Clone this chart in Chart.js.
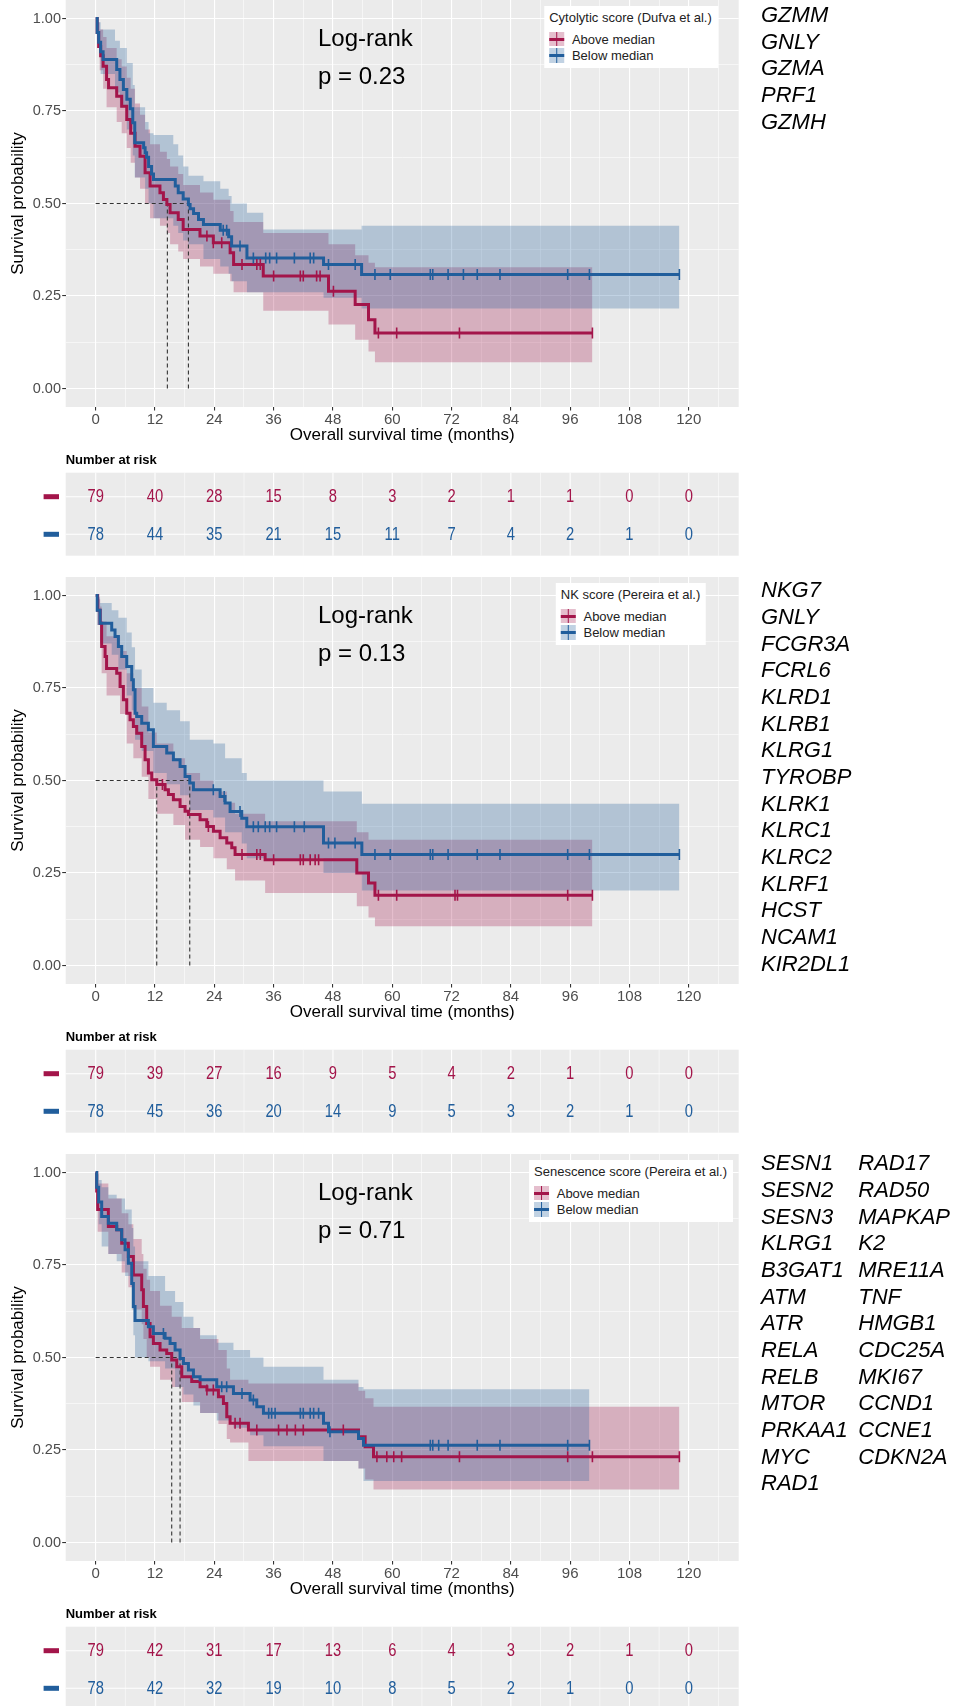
<!DOCTYPE html>
<html><head><meta charset="utf-8">
<script src="https://cdn.jsdelivr.net/npm/chart.js@4.4.1/dist/chart.umd.min.js"></script>
<style>
html,body{margin:0;padding:0;background:#fff}
body{position:relative;width:954px;height:1706px;overflow:hidden;font-family:'Liberation Sans',Arial,sans-serif}
canvas{position:absolute;left:0}
.lr{position:absolute;left:318px;font-size:24px;line-height:38px;color:#000;white-space:pre}
.genes{position:absolute;font-size:22px;font-style:italic;line-height:26.67px;color:#000;white-space:pre}
.legend{position:absolute;left:631px;transform:translateX(-50%);background:#fff;padding:4px 6px 3.7px 5px;color:#222;font-size:13px;white-space:nowrap}
.legend .t{line-height:15px;height:15px}
.legend .row{display:flex;align-items:center;height:16.7px}
.legend .row.first{margin-top:5.7px}
.key{position:relative;width:15px;height:14.7px;margin-right:7.7px}
.key .bg{position:absolute;left:0;top:0;right:0;bottom:0}
.key .h{position:absolute;left:0;right:0;top:5.85px;height:3px}
.key .v{position:absolute;top:0;bottom:0;left:6.75px;width:1.5px}
</style></head>
<body>
<script>
// ---------- axis / labels ----------
const timeBreaks = [0,12,24,36,48,60,72,84,96,108,120];
const timeMinor = [6,18,30,42,54,66,78,90,102,114,126];
const survBreaks = [0,0.25,0.5,0.75,1];
const survLabels = ['0.00','0.25','0.50','0.75','1.00'];
const survMinor = [0.125,0.375,0.625,0.875];
const groupLabels = ['Above median','Below median'];
const scoreTitles = ['Cytolytic score (Dufva et al.)','NK score (Pereira et al.)','Senescence score (Pereira et al.)'];
const logRankP = ['0.23','0.13','0.71'];

// ---------- Panel 1: Cytolytic score ----------
const cytAboveT = [0,0.3,0.6,1.0,1.5,2.2,2.6,4.25,5.26,6.28,7.08,7.96,8.97,9.99,11.0,13.0,13.7,14.4,15.05,16.7,17.7,21.1,23.8,27.2,27.9,33.9,47.1,52.5,55.2,56.5,100.5];
const cytAboveS = [1,0.962,0.924,0.899,0.871,0.835,0.813,0.79,0.763,0.727,0.69,0.655,0.628,0.583,0.547,0.529,0.511,0.497,0.475,0.457,0.43,0.412,0.394,0.367,0.335,0.304,0.263,0.227,0.186,0.15,0.15];
const cytAboveCensT = [22.5,23.8,25.5,29.6,32.6,33.3,36.0,41.4,42.0,44.7,45.4,48.1,57.2,60.9,73.6,100.5];
const cytAboveCensS = [0.412,0.394,0.394,0.335,0.335,0.335,0.304,0.304,0.304,0.304,0.304,0.263,0.15,0.15,0.15,0.15];
const cytAboveBandT = [0,0.3,0.8,1.5,2.2,4.25,5.26,6.28,7.08,7.96,8.97,9.99,11.0,13.0,14.4,15.05,16.7,17.7,21.1,23.8,27.2,27.9,33.9,47.1,52.5,55.2,56.5,100.5];
const cytAboveUpper = [1,0.99,0.97,0.95,0.92,0.89,0.87,0.84,0.81,0.77,0.74,0.70,0.66,0.64,0.62,0.60,0.58,0.55,0.53,0.51,0.48,0.45,0.42,0.39,0.36,0.34,0.328,0.328];
const cytAboveLower = [1,0.93,0.86,0.81,0.76,0.72,0.69,0.65,0.61,0.57,0.54,0.50,0.46,0.44,0.42,0.39,0.37,0.35,0.33,0.31,0.29,0.26,0.21,0.173,0.132,0.10,0.071,0.071];
const cytBelowT = [0,0.3,0.6,1.0,1.5,4.25,4.9,5.6,6.3,7.0,7.5,7.9,9.7,10.0,10.3,10.7,11.3,11.7,16.1,16.7,17.7,18.76,19.1,19.8,20.8,21.8,25.2,26.9,27.5,30.6,46.1,53.8,118.1];
const cytBelowS = [1,0.962,0.936,0.91,0.889,0.862,0.835,0.808,0.782,0.756,0.718,0.664,0.651,0.637,0.625,0.60,0.58,0.565,0.547,0.529,0.512,0.497,0.486,0.473,0.457,0.443,0.428,0.41,0.385,0.353,0.335,0.308,0.308];
const cytBelowCensT = [25.8,26.5,29.2,31.9,34.4,35.2,36.6,40.2,43.4,44.1,47.1,52.5,56.5,59.6,67.7,68.2,71.3,74.4,77.2,81.8,95.5,99.9,118.1];
const cytBelowCensS = [0.428,0.428,0.385,0.353,0.353,0.353,0.353,0.353,0.353,0.353,0.335,0.335,0.308,0.308,0.308,0.308,0.308,0.308,0.308,0.308,0.308,0.308,0.308];
const cytBelowBandT = [0,0.3,1.0,3.9,4.9,6.3,7.5,7.9,10.0,10.7,11.7,15.7,16.7,17.7,18.76,21.8,25.2,26.9,27.5,30.6,33.9,46.1,53.8,118.1];
const cytBelowUpper = [1,0.99,0.97,0.94,0.92,0.88,0.82,0.76,0.72,0.69,0.685,0.66,0.63,0.60,0.575,0.56,0.54,0.52,0.50,0.475,0.43,0.43,0.44,0.44];
const cytBelowLower = [1,0.92,0.85,0.80,0.76,0.70,0.63,0.57,0.54,0.50,0.46,0.44,0.42,0.40,0.39,0.35,0.33,0.31,0.29,0.26,0.26,0.245,0.216,0.216];
const cytMedians = [14.5,18.76];
const cytRiskAbove = [79,40,28,15,8,3,2,1,1,0,0];
const cytRiskBelow = [78,44,35,21,15,11,7,4,2,1,0];
const cytGenes = ['GZMM','GNLY','GZMA','PRF1','GZMH'];

// ---------- Panel 2: NK score ----------
const nkAboveT = [0,0.4,0.9,1.2,1.9,2.2,4.25,4.93,5.6,6.28,6.95,7.62,8.3,9.31,9.99,10.66,11.34,12.35,14.04,14.71,15.72,17.07,18.08,18.76,21.12,22.47,23.82,25.17,26.52,27.53,28.2,34.28,52.83,55.2,56.5,100.5];
const nkAboveS = [1,0.96,0.925,0.862,0.835,0.803,0.79,0.754,0.718,0.682,0.664,0.646,0.628,0.592,0.556,0.52,0.502,0.489,0.475,0.462,0.448,0.43,0.417,0.408,0.394,0.376,0.363,0.345,0.331,0.318,0.30,0.286,0.25,0.223,0.19,0.19];
const nkAboveCensT = [13.5,22.8,29.6,32.6,33.3,36.0,41.4,42.0,43.4,44.4,45.1,57.2,60.9,72.7,73.2,95.5,100.5];
const nkAboveCensS = [0.489,0.376,0.30,0.30,0.30,0.286,0.286,0.286,0.286,0.286,0.286,0.19,0.19,0.19,0.19,0.19,0.19];
const nkAboveBandT = [0,0.4,0.9,1.2,2.2,4.93,6.28,7.62,9.31,10.66,12.35,15.72,18.08,21.12,23.82,26.52,28.2,34.28,52.83,55.2,56.5,100.5];
const nkAboveUpper = [1,0.99,0.97,0.93,0.89,0.85,0.79,0.75,0.70,0.63,0.60,0.56,0.52,0.50,0.47,0.44,0.41,0.39,0.36,0.34,0.34,0.34];
const nkAboveLower = [1,0.92,0.87,0.79,0.73,0.68,0.60,0.56,0.51,0.45,0.41,0.38,0.34,0.32,0.29,0.26,0.23,0.196,0.16,0.13,0.106,0.106];
const nkBelowT = [0,0.3,0.88,3.24,3.91,4.59,5.26,6.28,7.29,7.62,7.96,8.3,9.31,10.66,11.67,14.37,15.72,17.07,18.08,19.03,19.77,25.17,26.18,27.19,29.55,30.57,46.09,53.85,118.1];
const nkBelowS = [1,0.96,0.925,0.907,0.889,0.862,0.835,0.808,0.772,0.745,0.682,0.673,0.655,0.637,0.592,0.574,0.556,0.538,0.511,0.493,0.475,0.457,0.439,0.416,0.398,0.375,0.331,0.30,0.30];
const nkBelowCensT = [23.8,26.0,29.2,31.9,32.9,34.3,35.2,36.6,40.2,42.2,47.1,48.4,52.5,56.5,59.6,67.7,68.2,71.3,77.2,81.8,95.5,99.9,118.1];
const nkBelowCensS = [0.475,0.457,0.416,0.375,0.375,0.375,0.375,0.375,0.375,0.375,0.331,0.331,0.331,0.30,0.30,0.30,0.30,0.30,0.30,0.30,0.30,0.30,0.30];
const nkBelowBandT = [0,0.3,0.88,3.24,4.59,6.28,7.29,7.96,9.31,11.67,14.37,17.07,19.03,23.8,26.18,29.55,30.57,46.09,53.85,118.1];
const nkBelowUpper = [1,0.995,0.98,0.96,0.94,0.90,0.86,0.80,0.75,0.71,0.69,0.66,0.61,0.60,0.56,0.52,0.50,0.47,0.4375,0.4375];
const nkBelowLower = [1,0.92,0.87,0.84,0.80,0.73,0.69,0.61,0.58,0.52,0.49,0.46,0.42,0.40,0.36,0.33,0.29,0.25,0.203,0.203];
const nkMedians = [12.35,19.03];
const nkRiskAbove = [79,39,27,16,9,5,4,2,1,0,0];
const nkRiskBelow = [78,45,36,20,14,9,5,3,2,1,0];
const nkGenes = ['NKG7','GNLY','FCGR3A','FCRL6','KLRD1','KLRB1','KLRG1','TYROBP','KLRK1','KLRC1','KLRC2','KLRF1','HCST','NCAM1','KIR2DL1'];

// ---------- Panel 3: Senescence score ----------
const senAboveT = [0,0.2,0.4,2.56,4.25,5.26,6.61,7.62,9.31,9.65,10.32,11.0,11.67,13.02,14.37,15.38,16.4,17.41,19.43,21.12,22.5,24.83,25.84,26.52,27.19,30.9,53.17,54.52,56.21,118.1];
const senAboveS = [1,0.95,0.90,0.854,0.845,0.809,0.773,0.723,0.683,0.638,0.592,0.556,0.538,0.52,0.511,0.493,0.475,0.448,0.435,0.421,0.412,0.394,0.376,0.34,0.322,0.304,0.286,0.259,0.232,0.232];
const senAboveCensT = [22.5,23.8,28.2,29.2,32.6,37.0,38.7,40.4,42.0,50.1,56.9,58.9,60.3,61.9,73.6,95.5,100.5,118.1];
const senAboveCensS = [0.412,0.412,0.322,0.322,0.304,0.304,0.304,0.304,0.304,0.304,0.232,0.232,0.232,0.232,0.232,0.232,0.232,0.232];
const senAboveBandT = [0,0.2,0.4,2.56,5.26,6.61,7.62,9.31,9.65,10.32,11.0,13.02,15.38,17.41,21.12,24.83,26.52,27.19,30.9,53.17,54.52,56.21,118.1];
const senAboveUpper = [1,0.995,0.97,0.93,0.89,0.86,0.82,0.78,0.74,0.71,0.68,0.64,0.61,0.58,0.55,0.52,0.47,0.44,0.43,0.41,0.39,0.367,0.367];
const senAboveLower = [1,0.90,0.84,0.78,0.73,0.69,0.63,0.59,0.55,0.50,0.475,0.44,0.42,0.38,0.35,0.32,0.28,0.27,0.22,0.20,0.17,0.143,0.143];
const senBelowT = [0,0.2,0.6,1.21,2.56,4.25,5.26,5.94,6.61,7.29,7.62,7.96,10.66,11.67,14.04,15.05,16.06,17.07,17.75,18.76,19.77,21.12,24.49,27.87,31.24,32.59,33.94,46.09,47.1,53.17,54.18,99.9];
const senBelowS = [1,0.96,0.92,0.881,0.863,0.845,0.818,0.791,0.755,0.70,0.638,0.60,0.583,0.565,0.552,0.538,0.52,0.497,0.484,0.466,0.448,0.44,0.421,0.403,0.385,0.367,0.349,0.322,0.299,0.281,0.263,0.263];
const senBelowCensT = [13.7,25.5,26.5,29.6,31.9,35.0,35.6,36.3,41.4,42.0,43.4,44.1,45.1,47.4,67.7,68.2,69.4,71.3,77.2,81.8,95.5,99.9];
const senBelowCensS = [0.565,0.421,0.421,0.403,0.385,0.349,0.349,0.349,0.349,0.349,0.349,0.349,0.349,0.299,0.263,0.263,0.263,0.263,0.263,0.263,0.263,0.263];
const senBelowBandT = [0,0.2,0.6,1.21,2.56,4.25,5.94,7.29,7.62,7.96,10.66,14.04,16.06,17.75,19.77,21.12,24.49,27.87,31.24,33.94,46.09,53.17,54.18,99.9];
const senBelowUpper = [1,0.995,0.98,0.96,0.94,0.93,0.90,0.85,0.80,0.76,0.72,0.68,0.65,0.61,0.58,0.56,0.54,0.52,0.50,0.475,0.44,0.42,0.414,0.414];
const senBelowLower = [1,0.91,0.86,0.80,0.78,0.76,0.72,0.63,0.56,0.50,0.49,0.47,0.42,0.40,0.37,0.35,0.33,0.31,0.29,0.26,0.22,0.20,0.166,0.166];
const senMedians = [15.38,17.07];
const senRiskAbove = [79,42,31,17,13,6,4,3,2,1,0];
const senRiskBelow = [78,42,32,19,10,8,5,2,1,0,0];
const senGenesCol1 = ['SESN1','SESN2','SESN3','KLRG1','B3GAT1','ATM','ATR','RELA','RELB','MTOR','PRKAA1','MYC','RAD1'];
const senGenesCol2 = ['RAD17','RAD50','MAPKAP','K2','MRE11A','TNF','HMGB1','CDC25A','MKI67','CCND1','CCNE1','CDKN2A'];

// ---------- styles ----------
const RED = '#A3154A', BLUE = '#215E9C';
const RED_FILL = 'rgba(163,21,74,0.28)', BLUE_FILL = 'rgba(33,94,156,0.28)';
const PANEL_STEP = 577;

Chart.defaults.font.family = "'Liberation Sans', Arial, sans-serif";

const panels = [
  {above:[cytAboveT,cytAboveS], below:[cytBelowT,cytBelowS],
   aboveCens:[cytAboveCensT,cytAboveCensS], belowCens:[cytBelowCensT,cytBelowCensS],
   aboveBand:[cytAboveBandT,cytAboveUpper,cytAboveLower], belowBand:[cytBelowBandT,cytBelowUpper,cytBelowLower],
   med:cytMedians, riskA:cytRiskAbove, riskB:cytRiskBelow, genes:[cytGenes], geneTop:1.9},
  {above:[nkAboveT,nkAboveS], below:[nkBelowT,nkBelowS],
   aboveCens:[nkAboveCensT,nkAboveCensS], belowCens:[nkBelowCensT,nkBelowCensS],
   aboveBand:[nkAboveBandT,nkAboveUpper,nkAboveLower], belowBand:[nkBelowBandT,nkBelowUpper,nkBelowLower],
   med:nkMedians, riskA:nkRiskAbove, riskB:nkRiskBelow, genes:[nkGenes], geneTop:0.2},
  {above:[senAboveT,senAboveS], below:[senBelowT,senBelowS],
   aboveCens:[senAboveCensT,senAboveCensS], belowCens:[senBelowCensT,senBelowCensS],
   aboveBand:[senAboveBandT,senAboveUpper,senAboveLower], belowBand:[senBelowBandT,senBelowUpper,senBelowLower],
   med:senMedians, riskA:senRiskAbove, riskB:senRiskBelow, genes:[senGenesCol1,senGenesCol2], geneTop:-3.8}
];

const pts = (ts, ss) => ts.map((t,i) => ({x:t, y:ss[i]}));
const xTicksAll = [...timeBreaks, ...timeMinor].sort((a,b)=>a-b);
const yTicksAll = [...survBreaks, ...survMinor].sort((a,b)=>a-b);
const isMajX = v => timeBreaks.includes(v);
const isMajY = v => survBreaks.includes(v);

function bandSet(band, which, color, fill){
  return {data: pts(band[0], band[which]), stepped:true, borderColor:'rgba(0,0,0,0)', borderWidth:0,
          pointRadius:0, fill: fill ? '+1' : false, backgroundColor: color};
}

function makePanel(idx){
  const P = panels[idx];
  const top = idx*PANEL_STEP;
  const h = Math.min(PANEL_STEP, 1706 - top);
  const cv = document.createElement('canvas');
  cv.width = 954; cv.height = h;
  cv.style.top = top + 'px';
  cv.style.width = '954px'; cv.style.height = h + 'px';
  document.body.appendChild(cv);

  const medMax = Math.max(...P.med);
  const dash = {borderColor:'#333333', borderWidth:1.1, borderDash:[4,3], pointRadius:0, fill:false};

  const riskPlugin = {
    id:'riskTable',
    afterDraw(chart){
      const {ctx, chartArea:a} = chart;
      const xs = chart.scales.x;
      const tTop = 472.7, tBot = 555.7, rows = [496.7, 534.3];
      ctx.save();
      ctx.fillStyle = '#EBEBEB';
      ctx.fillRect(a.left, tTop, a.right - a.left, tBot - tTop);
      ctx.strokeStyle = '#FFFFFF';
      xTicksAll.forEach(v => {
        const x = xs.getPixelForValue(v);
        ctx.lineWidth = isMajX(v) ? 1.1 : 0.55;
        ctx.beginPath(); ctx.moveTo(x, tTop); ctx.lineTo(x, tBot); ctx.stroke();
      });
      ctx.lineWidth = 1.1;
      rows.forEach(y => { ctx.beginPath(); ctx.moveTo(a.left, y); ctx.lineTo(a.right, y); ctx.stroke(); });
      ctx.fillStyle = '#000';
      ctx.font = "bold 13px 'Liberation Sans', Arial, sans-serif";
      ctx.textAlign = 'left'; ctx.textBaseline = 'middle';
      ctx.fillText('Number at risk', a.left, 460.7);
      [[P.riskA, RED], [P.riskB, BLUE]].forEach(([vals, col], r) => {
        const y = rows[r];
        ctx.fillStyle = col;
        ctx.fillRect(43.6, y - 2.5, 15.4, 5);
        ctx.font = "18px 'Liberation Sans', Arial, sans-serif";
        ctx.textAlign = 'center';
        timeBreaks.forEach((t, i) => {
          const x = xs.getPixelForValue(t);
          ctx.save(); ctx.translate(x, y + 0.5); ctx.scale(0.82, 1);
          ctx.fillText(String(vals[i]), 0, 0);
          ctx.restore();
        });
      });
      ctx.restore();
    }
  };
  const bgPlugin = {
    id:'panelBg',
    beforeDraw(chart){
      const {ctx, chartArea:a} = chart;
      ctx.save(); ctx.fillStyle = '#EBEBEB';
      ctx.fillRect(a.left, a.top, a.right - a.left, a.bottom - a.top);
      ctx.restore();
    }
  };

  new Chart(cv, {
    type:'line',
    data:{datasets:[
      {data: pts(P.belowCens[0], P.belowCens[1]), showLine:false, pointStyle:'line', pointRotation:90, pointRadius:5.5, pointBorderWidth:1.6, pointBorderColor:BLUE, borderColor:BLUE},
      {data: pts(P.aboveCens[0], P.aboveCens[1]), showLine:false, pointStyle:'line', pointRotation:90, pointRadius:5.5, pointBorderWidth:1.6, pointBorderColor:RED, borderColor:RED},
      {data: pts(P.below[0], P.below[1]), stepped:true, borderColor:BLUE, borderWidth:3, pointRadius:0, fill:false},
      {data: pts(P.above[0], P.above[1]), stepped:true, borderColor:RED, borderWidth:3, pointRadius:0, fill:false},
      Object.assign({data:[{x:0,y:0.5},{x:medMax,y:0.5}]}, dash),
      Object.assign({data:[{x:P.med[0],y:0},{x:P.med[0],y:0.5}]}, dash),
      Object.assign({data:[{x:P.med[1],y:0},{x:P.med[1],y:0.5}]}, dash),
      bandSet(P.belowBand, 1, BLUE_FILL, true),
      bandSet(P.belowBand, 2, BLUE_FILL, false),
      bandSet(P.aboveBand, 1, RED_FILL, true),
      bandSet(P.aboveBand, 2, RED_FILL, false)
    ]},
    options:{
      animation:false, responsive:false, events:[],
      layout:{autoPadding:false, padding:{left:0, top:0, right:215.3, bottom:h - 457}},
      plugins:{legend:{display:false}, tooltip:{enabled:false}},
      scales:{
        x:{type:'linear', min:-6.07, max:130.1, bounds:'data',
          afterBuildTicks: s => { s.ticks = xTicksAll.map(v => ({value:v})); },
          afterFit: s => { s.height = 50; s.paddingLeft = 0; s.paddingRight = 0; },
          border:{display:false},
          grid:{color:'#FFFFFF', lineWidth: c => (c.tick && isMajX(c.tick.value)) ? 1.1 : 0.55,
                tickColor: c => (c.tick && isMajX(c.tick.value)) ? '#333333' : 'rgba(0,0,0,0)',
                tickWidth:1.1, tickLength:3.5, drawTicks:true},
          ticks:{autoSkip:false, maxRotation:0, minRotation:0, padding:0, color:'#4D4D4D', font:{size:15},
                 callback: v => isMajX(v) ? String(v) : ''},
          title:{display:true, text:'Overall survival time (months)', color:'#000', font:{size:17}, padding:{top:0, bottom:11.8}}
        },
        y:{type:'linear', min:-0.05, max:1.05, bounds:'data',
          afterBuildTicks: s => { s.ticks = yTicksAll.map(v => ({value:v})); },
          afterFit: s => { s.width = 65.7; s.paddingTop = 0; s.paddingBottom = 0; },
          border:{display:false},
          grid:{color:'#FFFFFF', lineWidth: c => (c.tick && isMajY(c.tick.value)) ? 1.1 : 0.55,
                tickColor: c => (c.tick && isMajY(c.tick.value)) ? '#333333' : 'rgba(0,0,0,0)',
                tickWidth:1.1, tickLength:3.5, drawTicks:true},
          ticks:{autoSkip:false, padding:1.2, color:'#4D4D4D', font:{size:14.5},
                 callback: v => { const i = survBreaks.indexOf(v); return i >= 0 ? survLabels[i] : ''; }},
          title:{display:true, text:'Survival probability', color:'#000', font:{size:17}, padding:{top:8, bottom:0}}
        }
      }
    },
    plugins:[bgPlugin, riskPlugin]
  });

  // Log-rank annotation
  const lr = document.createElement('div');
  lr.className = 'lr';
  lr.style.top = (top + 19.2) + 'px';
  lr.textContent = 'Log-rank\np = ' + logRankP[idx];
  document.body.appendChild(lr);

  // Legend
  const lg = document.createElement('div');
  lg.className = 'legend';
  lg.style.top = (top + 6) + 'px';
  const t = document.createElement('div'); t.className = 't'; t.textContent = scoreTitles[idx]; lg.appendChild(t);
  [[RED, RED_FILL],[BLUE, BLUE_FILL]].forEach(([c, f], i) => {
    const row = document.createElement('div'); row.className = 'row' + (i === 0 ? ' first' : '');
    const key = document.createElement('div'); key.className = 'key';
    key.innerHTML = `<div class="bg" style="background:${f}"></div><div class="h" style="background:${c}"></div><div class="v" style="background:${c}"></div>`;
    const lab = document.createElement('span'); lab.textContent = groupLabels[i];
    row.appendChild(key); row.appendChild(lab); lg.appendChild(row);
  });
  document.body.appendChild(lg);

  // Gene lists
  const lefts = [761, 858.3];
  P.genes.forEach((col, ci) => {
    const g = document.createElement('div');
    g.className = 'genes';
    g.style.left = lefts[ci] + 'px';
    g.style.top = (top + P.geneTop) + 'px';
    g.textContent = col.join('\n');
    document.body.appendChild(g);
  });
}

panels.forEach((p, i) => makePanel(i));
</script>
</body></html>
